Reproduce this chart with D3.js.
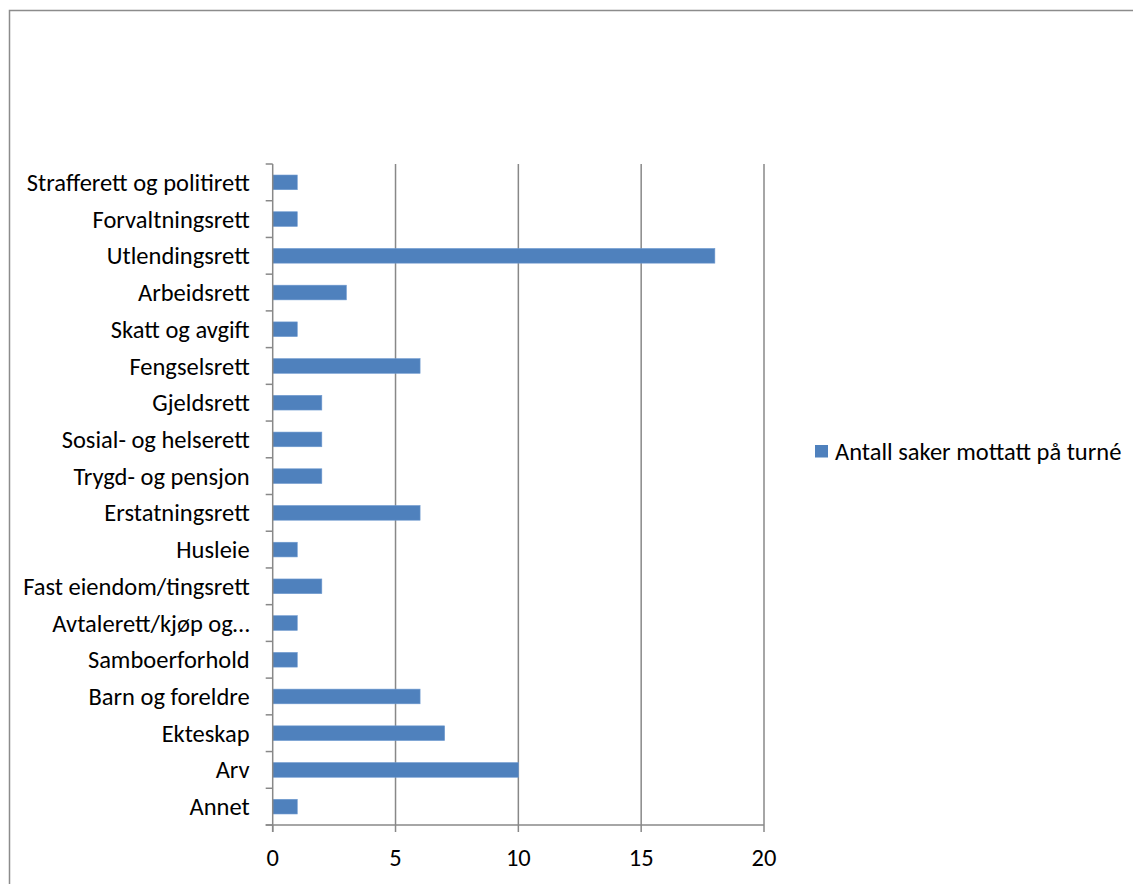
<!DOCTYPE html>
<html>
<head>
<meta charset="utf-8">
<script src="https://cdn.jsdelivr.net/npm/d3@7"></script>
<style>
  html, body { margin: 0; padding: 0; background: #fff; }
  svg { display: block; }
  text { font-family: Carlito, Calibri, Lato, "Open Sans", sans-serif; fill: #000; }
</style>
</head>
<body>
<svg id="chart" width="1133" height="884"></svg>
<script>
// Categories listed top to bottom
const categories = [
  "Strafferett og politirett",
  "Forvaltningsrett",
  "Utlendingsrett",
  "Arbeidsrett",
  "Skatt og avgift",
  "Fengselsrett",
  "Gjeldsrett",
  "Sosial- og helserett",
  "Trygd- og pensjon",
  "Erstatningsrett",
  "Husleie",
  "Fast eiendom/tingsrett",
  "Avtalerett/kjøp og…",
  "Samboerforhold",
  "Barn og foreldre",
  "Ekteskap",
  "Arv",
  "Annet"
];
const values = [1, 1, 18, 3, 1, 6, 2, 2, 2, 6, 1, 2, 1, 1, 6, 7, 10, 1];
const xTicks = [0, 5, 10, 15, 20];
const seriesName = "Antall saker mottatt på turné";

const svg = d3.select("#chart");
const gridColor = "#888888";
const barColor = "#4F81BD";
const fontSize = 24.5;

// Outer chart frame
svg.append("rect")
  .attr("x", 9.5).attr("y", 10.5)
  .attr("width", 1140).attr("height", 900)
  .attr("fill", "none").attr("stroke", "#8c8c8c").attr("stroke-width", 1.5);

const plot = { left: 272.7, right: 764, top: 164, bottom: 825 };

const x = d3.scaleLinear().domain([0, 20]).range([plot.left, plot.right]);
const y = d3.scaleBand().domain(categories).range([plot.top, plot.bottom]).paddingInner(0.6).paddingOuter(0.3);
const yEdges = d3.scaleLinear().domain([0, categories.length]).range([plot.top, plot.bottom]);

// Vertical gridlines
svg.append("g").selectAll("line")
  .data(xTicks.filter(d => d > 0))
  .join("line")
  .attr("x1", d => x(d)).attr("x2", d => x(d))
  .attr("y1", plot.top).attr("y2", plot.bottom)
  .attr("stroke", gridColor).attr("stroke-width", 1.5);

// Bars
svg.append("g").selectAll("rect")
  .data(categories.map((c, i) => ({ c, v: values[i] })))
  .join("rect")
  .attr("x", x(0))
  .attr("y", d => y(d.c))
  .attr("width", d => x(d.v) - x(0))
  .attr("height", y.bandwidth())
  .attr("fill", barColor)
  .attr("stroke", "#6f9ad0").attr("stroke-width", 0.6);

// Category axis (left)
const yAxis = svg.append("g");
yAxis.append("line")
  .attr("x1", plot.left).attr("x2", plot.left)
  .attr("y1", plot.top).attr("y2", plot.bottom + 7)
  .attr("stroke", gridColor).attr("stroke-width", 1.5);
yAxis.selectAll("line.tick")
  .data(d3.range(categories.length + 1))
  .join("line").attr("class", "tick")
  .attr("x1", plot.left - 7).attr("x2", plot.left)
  .attr("y1", d => yEdges(d)).attr("y2", d => yEdges(d))
  .attr("stroke", gridColor).attr("stroke-width", 1.5);
yAxis.selectAll("text")
  .data(categories)
  .join("text")
  .attr("x", plot.left - 23)
  .attr("y", d => y(d) + y.bandwidth() / 2)
  .attr("dy", "0.35em")
  .attr("text-anchor", "end")
  .attr("font-size", fontSize)
  .text(d => d);

// Value axis (bottom)
const xAxis = svg.append("g");
xAxis.append("line")
  .attr("x1", plot.left - 7).attr("x2", plot.right)
  .attr("y1", plot.bottom).attr("y2", plot.bottom)
  .attr("stroke", gridColor).attr("stroke-width", 1.5);
xAxis.selectAll("line.tick")
  .data(xTicks)
  .join("line").attr("class", "tick")
  .attr("x1", d => x(d)).attr("x2", d => x(d))
  .attr("y1", plot.bottom).attr("y2", plot.bottom + 7)
  .attr("stroke", gridColor).attr("stroke-width", 1.5);
xAxis.selectAll("text")
  .data(xTicks)
  .join("text")
  .attr("x", d => x(d))
  .attr("y", 857)
  .attr("dy", "0.35em")
  .attr("text-anchor", "middle")
  .attr("font-size", fontSize)
  .text(d => d);

// Legend
const legend = svg.append("g").attr("transform", "translate(815,445)");
legend.append("rect").attr("width", 13).attr("height", 12.5).attr("fill", barColor);
legend.append("text")
  .attr("x", 20).attr("y", 6.5).attr("dy", "0.35em")
  .attr("font-size", fontSize)
  .text(seriesName);
</script>
</body>
</html>
